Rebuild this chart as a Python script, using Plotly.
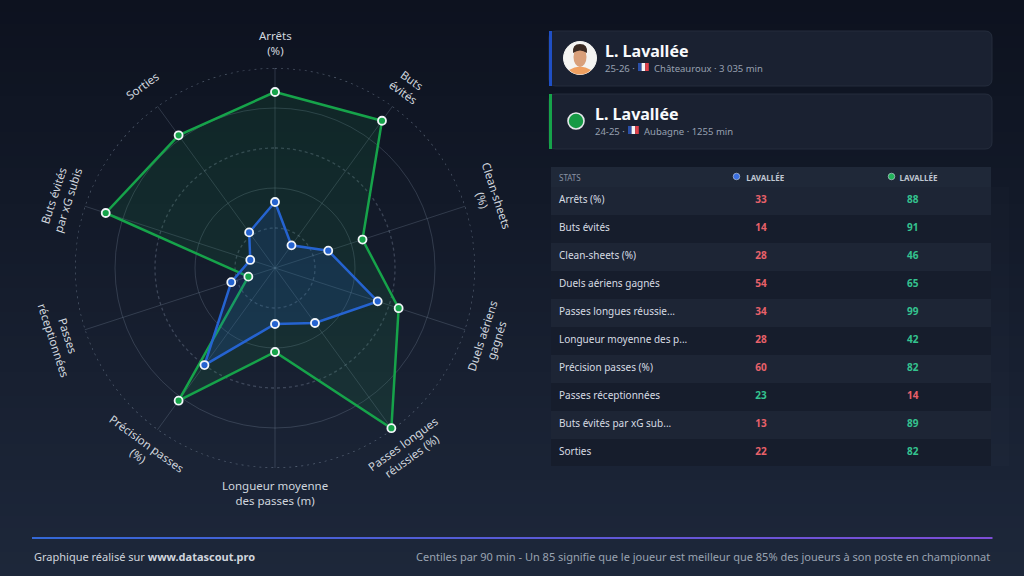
import math
import plotly.graph_objects as go

W, H = 1024, 576
FONT = "Noto Sans"

# ---------------- data ----------------
categories = ["Arrêts (%)", "Buts évités", "Clean-sheets (%)", "Duels aériens gagnés",
              "Passes longues réussies (%)", "Longueur moyenne des passes (m)",
              "Précision passes (%)", "Passes réceptionnées", "Buts évités par xG subis", "Sorties"]
axis_labels = ["Arrêts<br>(%)", "Buts<br>évités", "Clean-sheets<br>(%)", "Duels aériens<br>gagnés",
               "Passes longues<br>réussies (%)", "Longueur moyenne<br>des passes (m)",
               "Précision passes<br>(%)", "Passes<br>réceptionnées", "Buts évités<br>par xG subis", "Sorties"]
table_labels = ["Arrêts (%)", "Buts évités", "Clean-sheets (%)", "Duels aériens gagnés",
                "Passes longues réussie...", "Longueur moyenne des p...", "Précision passes (%)",
                "Passes réceptionnées", "Buts évités par xG sub...", "Sorties"]
blue_values = [33, 14, 28, 54, 34, 28, 60, 23, 13, 22]
green_values = [88, 91, 46, 65, 99, 42, 82, 14, 89, 82]
player_name = "L. Lavallée"
header_name = "LAVALLÉE"
blue_season, blue_meta = "25-26 ·", "Châteauroux · 3 035 min"
green_season, green_meta = "24-25 ·", "Aubagne · 1255 min"
footer_left = "Graphique réalisé sur <b>www.datascout.pro</b>"
footer_right = "Centiles par 90 min - Un 85 signifie que le joueur est meilleur que 85% des joueurs à son poste en championnat"

# ---------------- styles ----------------
BLUE = "#2563d0"
GREEN = "#16a34a"
GOOD = "#34c38f"
BAD = "#e8616a"
GRID = "rgba(148,163,184,0.24)"

def X(px):
    return px / W

def Y(py):
    return 1 - py / H

N = len(categories)
theta = [i * 360 / N for i in range(N)]

fig = go.Figure()

# background gradient bands
shapes = []
bands = 48
c0, c1 = (13, 18, 31), (29, 39, 58)
for i in range(bands):
    t = i / (bands - 1)
    col = tuple(round(c0[k] + (c1[k] - c0[k]) * t) for k in range(3))
    shapes.append(dict(type="rect", xref="paper", yref="paper", layer="below",
                       x0=0, x1=1, y0=Y((i + 1) * H / bands + 0.5), y1=Y(i * H / bands),
                       fillcolor="rgb(%d,%d,%d)" % col, line=dict(width=0)))

# radar grid circles (dashed / dotted)
circ_theta = list(range(0, 361, 1))
for rr, dash, col in [(20, "3px,3px", "rgba(148,163,184,0.30)"), (60, "3px,3px", "rgba(148,163,184,0.30)"),
                      (100, "2px,4px", "rgba(148,163,184,0.50)")]:
    fig.add_trace(go.Scatterpolar(r=[rr] * len(circ_theta), theta=circ_theta, mode="lines",
                                  line=dict(color=col, width=1.3, dash=dash),
                                  hoverinfo="skip", showlegend=False))

def closed(v):
    return list(v) + [v[0]]

fig.add_trace(go.Scatterpolar(r=closed(green_values), theta=closed(theta), mode="lines",
                              fill="toself", fillcolor="rgba(22,163,74,0.12)",
                              line=dict(color=GREEN, width=2.5), showlegend=False, hoverinfo="skip"))
fig.add_trace(go.Scatterpolar(r=closed(blue_values), theta=closed(theta), mode="lines",
                              fill="toself", fillcolor="rgba(37,99,235,0.15)",
                              line=dict(color=BLUE, width=2.5), showlegend=False, hoverinfo="skip"))
fig.add_trace(go.Scatterpolar(r=green_values, theta=theta, mode="markers",
                              marker=dict(size=8, color=GREEN, line=dict(color="#f1f5f9", width=1.8)),
                              showlegend=False, text=categories))
fig.add_trace(go.Scatterpolar(r=blue_values, theta=theta, mode="markers",
                              marker=dict(size=8, color=BLUE, line=dict(color="#f1f5f9", width=1.8)),
                              showlegend=False, text=categories))

cx, cy, R = 275, 268, 200
fig.update_layout(polar=dict(
    domain=dict(x=[X(cx - R), X(cx + R)], y=[Y(cy + R), Y(cy - R)]),
    bgcolor="rgba(0,0,0,0)",
    radialaxis=dict(range=[0, 100], tickvals=[40, 80], showticklabels=False, ticks="",
                    showline=False, gridcolor=GRID, gridwidth=1),
    angularaxis=dict(direction="clockwise", rotation=90, tickmode="array", tickvals=theta,
                     showticklabels=False, ticks="", showline=False, gridcolor=GRID, gridwidth=1),
))

annotations = []
# radar axis labels, rotated tangentially
for i, lab in enumerate(axis_labels):
    ang = theta[i]
    rad = math.radians(ang)
    lx = cx + 225 * math.sin(rad)
    ly = cy - 225 * math.cos(rad)
    if ang <= 90:
        rot = ang
    elif ang < 270:
        rot = ang - 180
    else:
        rot = ang - 360
    annotations.append(dict(xref="paper", yref="paper", x=X(lx), y=Y(ly), text=lab, showarrow=False,
                            textangle=rot, xanchor="center", yanchor="middle",
                            font=dict(family=FONT, size=11.5, color="#d0d6de")))

# ---------------- cards ----------------
def rrect(x0, y0, x1, y1, r):
    return (f"M {X(x0 + r)},{Y(y0)} L {X(x1 - r)},{Y(y0)} Q {X(x1)},{Y(y0)} {X(x1)},{Y(y0 + r)} "
            f"L {X(x1)},{Y(y1 - r)} Q {X(x1)},{Y(y1)} {X(x1 - r)},{Y(y1)} L {X(x0 + r)},{Y(y1)} "
            f"Q {X(x0)},{Y(y1)} {X(x0)},{Y(y1 - r)} L {X(x0)},{Y(y0 + r)} Q {X(x0)},{Y(y0)} {X(x0 + r)},{Y(y0)} Z")

for (y0, y1, accent) in [(31, 86, "#1f4fc4"), (94, 149, GREEN)]:
    shapes.append(dict(type="path", xref="paper", yref="paper", layer="below", path=rrect(549, y0, 992, y1, 7),
                       fillcolor="#1a2131", line=dict(color="#252d3d", width=1)))
    shapes.append(dict(type="rect", xref="paper", yref="paper", layer="below",
                       x0=X(549), x1=X(552), y0=Y(y1), y1=Y(y0), fillcolor=accent, line=dict(width=0)))

# avatar (card 1)
acx, acy, ar = 580, 58, 16.5
shapes.append(dict(type="circle", xref="paper", yref="paper", x0=X(acx - ar), x1=X(acx + ar),
                   y0=Y(acy + ar), y1=Y(acy - ar), fillcolor="#f4f4f2", line=dict(color="#f4f4f2", width=1)))
shapes.append(dict(type="path", xref="paper", yref="paper",
                   path=(f"M {X(569)},{Y(70)} Q {X(580)},{Y(63)} {X(591)},{Y(70)} "
                         f"Q {X(586)},{Y(74.5)} {X(580)},{Y(74.5)} Q {X(574)},{Y(74.5)} {X(569)},{Y(70)} Z"),
                   fillcolor="#f0a060", line=dict(width=0)))
shapes.append(dict(type="circle", xref="paper", yref="paper", x0=X(573.5), x1=X(586.5), y0=Y(67), y1=Y(47),
                   fillcolor="#d9a07a", line=dict(width=0)))
shapes.append(dict(type="path", xref="paper", yref="paper",
                   path=(f"M {X(573)},{Y(53)} Q {X(572)},{Y(44)} {X(580)},{Y(44)} Q {X(588)},{Y(44)} {X(587)},{Y(53)} "
                         f"Q {X(580)},{Y(48)} {X(573)},{Y(53)} Z"),
                   fillcolor="#3a2a22", line=dict(width=0)))

# green dot (card 2)
shapes.append(dict(type="circle", xref="paper", yref="paper", x0=X(568), x1=X(584), y0=Y(129), y1=Y(113),
                   fillcolor="#169a45", line=dict(color="#e5e7eb", width=1.6)))

# flags
for fx, fy in [(638, 63), (628, 126)]:
    for k, col in enumerate(["#2a4fa8", "#f5f5f5", "#e0404a"]):
        shapes.append(dict(type="rect", xref="paper", yref="paper", x0=X(fx + 3.6 * k), x1=X(fx + 3.6 * (k + 1)),
                           y0=Y(fy + 8), y1=Y(fy), fillcolor=col, line=dict(width=0)))

for nx, ny, sx, sy, season, meta, mx in [(603, 51, 603, 68, blue_season, blue_meta, 652),
                                         (593, 114, 593, 131, green_season, green_meta, 642)]:
    annotations.append(dict(xref="paper", yref="paper", x=X(nx), y=Y(ny), text="<b>%s</b>" % player_name,
                            showarrow=False, xanchor="left", yanchor="middle",
                            font=dict(family=FONT, size=16, color="#f8fafc")))
    annotations.append(dict(xref="paper", yref="paper", x=X(sx), y=Y(sy), text=season,
                            showarrow=False, xanchor="left", yanchor="middle",
                            font=dict(family=FONT, size=9.5, color="#97a0b0")))
    annotations.append(dict(xref="paper", yref="paper", x=X(mx), y=Y(sy), text=meta,
                            showarrow=False, xanchor="left", yanchor="middle",
                            font=dict(family=FONT, size=9.5, color="#97a0b0")))

# ---------------- table ----------------
NB = "\u00a0"
FS = "\u2007"
blue_cols = [GOOD if b > g else BAD for b, g in zip(blue_values, green_values)]
green_cols = [GOOD if g > b else BAD for b, g in zip(blue_values, green_values)]
row_fill = ["#1d2535" if i % 2 == 0 else "#161d2c" for i in range(N)]
colw = [148, 124, 168]
fig.add_trace(go.Table(
    domain=dict(x=[X(551), X(991)], y=[Y(467), Y(167)]),
    columnwidth=colw,
    header=dict(values=["STATS", NB * 4 + header_name, NB * 11 + header_name],
                align=["left", "center", "center"], height=20,
                fill=dict(color="#1f2838"), line=dict(color="#1f2838", width=0),
                font=dict(family=FONT, size=8, color=["#8a93a3", "#c0c7d2", "#c0c7d2"],
                          weight=["normal", "bold", "bold"])),
    cells=dict(values=[[t.replace(" ", NB) for t in table_labels],
                       [str(v) for v in blue_values],
                       [FS * 2 + str(v) for v in green_values]],
               align=["left", "center", "center"], height=28,
               fill=dict(color=[row_fill, row_fill, row_fill]),
               line=dict(color=[row_fill, row_fill, row_fill], width=0),
               font=dict(family=FONT, size=10, color=[["#d6dbe3"] * N, blue_cols, green_cols],
                         weight=["normal", "bold", "bold"])),
))
# header dots
for xc, col in [(736.5, "#3b6fe0"), (891.5, "#22b35a")]:
    shapes.append(dict(type="circle", xref="paper", yref="paper", x0=X(xc - 3.3), x1=X(xc + 3.3),
                       y0=Y(179.8), y1=Y(173.2), fillcolor=col, line=dict(color="#cbd5e1", width=0.6)))

# ---------------- footer ----------------
segs = 40
g0, g1 = (52, 104, 214), (124, 78, 214)
for i in range(segs):
    t = i / (segs - 1)
    col = tuple(round(g0[k] + (g1[k] - g0[k]) * t) for k in range(3))
    xa = 32 + (992 - 32) * i / segs
    xb = 32 + (992 - 32) * (i + 1) / segs
    shapes.append(dict(type="line", xref="paper", yref="paper", x0=X(xa), x1=X(xb + 0.5), y0=Y(538), y1=Y(538),
                       line=dict(color="rgb(%d,%d,%d)" % col, width=2)))

annotations.append(dict(xref="paper", yref="paper", x=X(32), y=Y(556), text=footer_left, showarrow=False,
                        xanchor="left", yanchor="middle", font=dict(family=FONT, size=11, color="#d0d5dd")))
annotations.append(dict(xref="paper", yref="paper", x=X(992), y=Y(556), text=footer_right, showarrow=False,
                        xanchor="right", yanchor="middle", font=dict(family=FONT, size=11, color="#9aa3b2")))

fig.update_layout(width=W, height=H, margin=dict(l=0, r=0, t=0, b=0), paper_bgcolor="#141b2b",
                  plot_bgcolor="rgba(0,0,0,0)", shapes=shapes, annotations=annotations, showlegend=False,
                  font=dict(family=FONT))

fig.write_html("out.html", config={"displayModeBar": False},
               post_script="document.body.style.margin='0';document.body.style.overflow='hidden';")
